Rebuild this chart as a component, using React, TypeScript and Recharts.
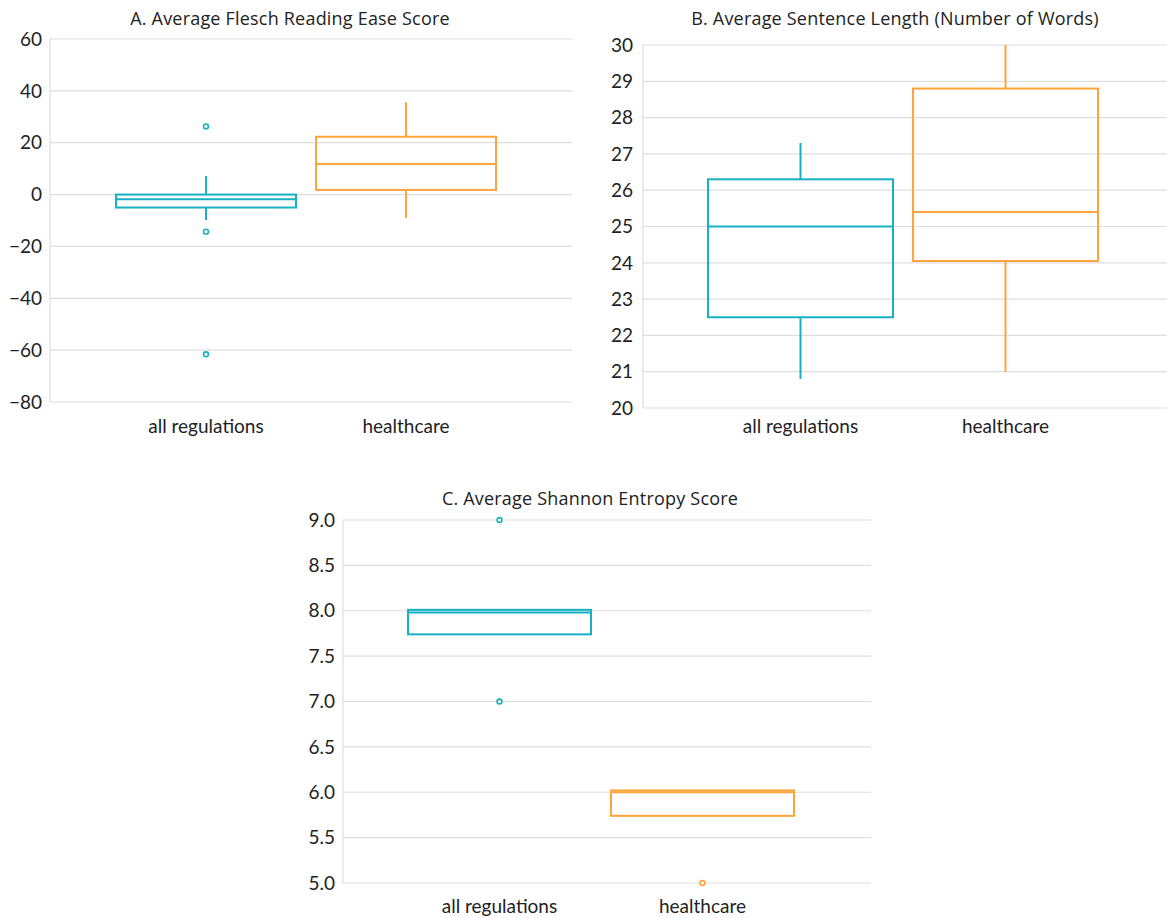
import { ComposedChart, Bar, XAxis, YAxis, CartesianGrid } from "recharts";

const categories = ["all regulations", "healthcare"];
const boxColors = ["#17b1c2", "#ffa43a"];

// A. Average Flesch Reading Ease Score
const fleschLow = [-9.8, -9];
const fleschQ1 = [-5, 1.8];
const fleschMedian = [-1.8, 11.8];
const fleschQ3 = [0, 22.3];
const fleschHigh = [7.2, 35.6];
const fleschOutliers = [[26.3, -14.3, -61.6], []];
const fleschTicks = [-80, -60, -40, -20, 0, 20, 40, 60];

// B. Average Sentence Length
const sentenceLow = [20.8, 21.0];
const sentenceQ1 = [22.5, 24.05];
const sentenceMedian = [25.0, 25.4];
const sentenceQ3 = [26.3, 28.8];
const sentenceHigh = [27.3, 30.0];
const sentenceOutliers = [[], []];
const sentenceTicks = [20, 21, 22, 23, 24, 25, 26, 27, 28, 29, 30];

// C. Average Shannon Entropy Score
const entropyLow = [7.74, 5.74];
const entropyQ1 = [7.74, 5.74];
const entropyMedian = [7.98, 6.0];
const entropyQ3 = [8.01, 6.02];
const entropyHigh = [8.01, 6.02];
const entropyOutliers = [[9.0, 7.0], [5.0]];
const entropyTicks = [5, 5.5, 6, 6.5, 7, 7.5, 8, 8.5, 9];

const FONT = "Lato, 'Open Sans', sans-serif";
const TITLE_FONT = "'Open Sans', Lato, sans-serif";
const GRID = "#dedede";

function buildRows(
  low: number[],
  q1: number[],
  median: number[],
  q3: number[],
  high: number[],
  outliers: number[][]
) {
  return categories.map((name, i) => ({
    name,
    range: [low[i], high[i]],
    low: low[i],
    q1: q1[i],
    median: median[i],
    q3: q3[i],
    high: high[i],
    outliers: outliers[i],
    color: boxColors[i],
  }));
}

function BoxShape(props: any) {
  const { x, y, width, height, payload } = props;
  const { low, high, q1, median, q3, outliers, color } = payload;
  const span = high - low;
  const py = (v: number) => y + ((high - v) / span) * height;
  const cx = x + width / 2;
  return (
    <g>
      {high > q3 && (
        <line x1={cx} x2={cx} y1={py(high)} y2={py(q3)} stroke={color} strokeWidth={2} />
      )}
      {low < q1 && (
        <line x1={cx} x2={cx} y1={py(q1)} y2={py(low)} stroke={color} strokeWidth={2} />
      )}
      <rect
        x={x}
        y={py(q3)}
        width={width}
        height={py(q1) - py(q3)}
        fill="none"
        stroke={color}
        strokeWidth={2}
      />
      <line x1={x} x2={x + width} y1={py(median)} y2={py(median)} stroke={color} strokeWidth={2} />
      {outliers.map((v: number, k: number) => (
        <circle key={k} cx={cx} cy={py(v)} r={2.4} fill="#fff" stroke={color} strokeWidth={1.6} />
      ))}
    </g>
  );
}

interface BoxChartProps {
  title: string;
  rows: any[];
  ticks: number[];
  left: number;
  top: number;
  width: number;
  height: number;
  margin: { top: number; right: number; bottom: number; left: number };
  yWidth: number;
  yGap: number;
  xGap: number;
  padding: { left: number; right: number };
  barSize: number;
  titleX: number;
  titleY: number;
  decimals: number;
}

function BoxChart(p: BoxChartProps) {
  return (
    <div style={{ position: "absolute", left: p.left, top: p.top, width: p.width, height: p.height }}>
      <div
        style={{
          position: "absolute",
          left: p.titleX - 300,
          width: 600,
          top: p.titleY,
          textAlign: "center",
          fontFamily: TITLE_FONT,
          fontSize: 18,
          letterSpacing: 0.2,
          color: "#222",
          lineHeight: "22px",
        }}
      >
        {p.title}
      </div>
      <ComposedChart width={p.width} height={p.height} data={p.rows} margin={p.margin} barCategoryGap={0}>
        <CartesianGrid vertical={false} stroke={GRID} strokeWidth={1.2} />
        <XAxis
          dataKey="name"
          type="category"
          padding={p.padding}
          axisLine={false}
          tickLine={false}
          tickSize={0}
          tickMargin={p.xGap}
          height={40}
          tick={{ fill: "#222", fontSize: 19, fontFamily: FONT }}
        />
        <YAxis
          type="number"
          domain={[p.ticks[0], p.ticks[p.ticks.length - 1]]}
          ticks={p.ticks}
          interval={0}
          width={p.yWidth}
          tickLine={false}
          tickSize={0}
          tickMargin={p.yGap}
          axisLine={{ stroke: GRID, strokeWidth: 1.2 }}
          tickFormatter={(v: number) => v.toFixed(p.decimals).replace("-", "\u2212")}
          tick={{ fill: "#222", fontSize: 19, fontFamily: FONT }}
        />
        <Bar dataKey="range" barSize={p.barSize} shape={<BoxShape />} isAnimationActive={false} />
      </ComposedChart>
    </div>
  );
}

export default function App() {
  const flesch = buildRows(fleschLow, fleschQ1, fleschMedian, fleschQ3, fleschHigh, fleschOutliers);
  const sentence = buildRows(sentenceLow, sentenceQ1, sentenceMedian, sentenceQ3, sentenceHigh, sentenceOutliers);
  const entropy = buildRows(entropyLow, entropyQ1, entropyMedian, entropyQ3, entropyHigh, entropyOutliers);

  return (
    <div style={{ position: "absolute", left: 0, top: 0, width: 1167, height: 918, background: "#fff" }}>
      <BoxChart
        title="A. Average Flesch Reading Ease Score"
        rows={flesch}
        ticks={fleschTicks}
        left={0}
        top={0}
        width={580}
        height={450}
        margin={{ top: 39, right: 8, bottom: 8, left: 0 }}
        yWidth={50}
        yGap={8}
        xGap={18}
        padding={{ left: 56, right: 66 }}
        barSize={180}
        titleX={290}
        titleY={7}
        decimals={0}
      />
      <BoxChart
        title="B. Average Sentence Length (Number of Words)"
        rows={sentence}
        ticks={sentenceTicks}
        left={580}
        top={0}
        width={587}
        height={450}
        margin={{ top: 45, right: 0, bottom: 2, left: 0 }}
        yWidth={63}
        yGap={10}
        xGap={12}
        padding={{ left: 55, right: 59 }}
        barSize={185}
        titleX={315}
        titleY={7}
        decimals={0}
      />
      <BoxChart
        title="C. Average Shannon Entropy Score"
        rows={entropy}
        ticks={entropyTicks}
        left={280}
        top={470}
        width={600}
        height={448}
        margin={{ top: 50, right: 9, bottom: -5, left: 0 }}
        yWidth={63}
        yGap={8}
        xGap={17}
        padding={{ left: 55, right: 67 }}
        barSize={183}
        titleX={310}
        titleY={17}
        decimals={1}
      />
    </div>
  );
}
